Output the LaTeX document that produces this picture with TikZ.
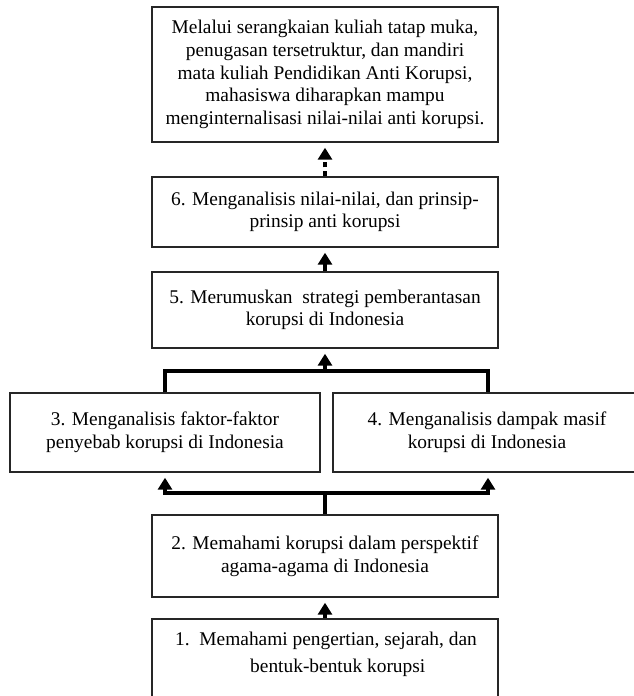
\documentclass[tikz,border=0pt]{standalone}
\usepackage{fontspec}
\setmainfont{Liberation Serif}
\usetikzlibrary{arrows.meta}
\begin{document}
\begin{tikzpicture}[x=1pt,y=-1pt,
  box/.style={draw=black!85, line width=1.4pt, rectangle, align=center, inner sep=0pt,
    font=\fontsize{19.4}{22.6}\selectfont},
  conn/.style={line width=4.5pt, draw=black},
  arr/.style={conn, -{Triangle[width=14pt,length=12pt]}, shorten >=5pt},
]
\useasboundingbox (0,0) rectangle (633,696);

\node[box, minimum width=346pt, minimum height=135pt] (goal) at (325,74.5)
  {Melalui serangkaian kuliah tatap muka,\\penugasan tersetruktur, dan mandiri\\mata kuliah Pendidikan Anti Korupsi,\\mahasiswa diharapkan mampu\\menginternalisasi nilai-nilai anti korupsi.};
\node[box, minimum width=346pt, minimum height=70pt] (b6) at (325,212)
  {6. Menganalisis nilai-nilai, dan prinsip-\\prinsip anti korupsi};
\node[box, minimum width=346pt, minimum height=76pt] (b5) at (325,310)
  {5. Merumuskan\ \ strategi pemberantasan\\korupsi di Indonesia};
\node[box, minimum width=310pt, minimum height=79pt] (b3) at (165,432.5)
  {3. Menganalisis faktor-faktor\\penyebab korupsi di Indonesia};
\node[box, minimum width=308pt, minimum height=79pt] (b4) at (487,432.5)
  {4. Menganalisis dampak masif\\korupsi di Indonesia};
\node[box, minimum width=346pt, minimum height=82pt] (b2) at (325,556)
  {2. Memahami korupsi dalam perspektif\\agama-agama di Indonesia};
\node[box, minimum width=346pt, minimum height=90pt] (b1) at (325,664) {};
\node[anchor=north west, inner sep=0pt, align=left,
  font=\fontsize{19.4}{22.6}\selectfont] (b1t) at (175,631.5)
  {1.\ \ Memahami pengertian, sejarah, dan\\[4.5pt]\hspace*{75pt}bentuk-bentuk korupsi};

% connectors
\draw[arr, dash pattern=on 5pt off 4pt] (b6.north) -- (goal.south);
\draw[arr] (b5.north) -- (b6.south);

\coordinate (tl) at (165,371);
\coordinate (tr) at (488,371);
\coordinate (tm) at (325,371);
\draw[conn] (b3.north -| tl) -- (tl) -- (tr) -- (b4.north -| tr);
\draw[arr] (tm) -- (b5.south);

\coordinate (bl) at (165,493);
\coordinate (br) at (488,493);
\coordinate (bm) at (325,493);
\draw[conn] (b2.north) -- (bm);
\draw[arr] (bm) -- (bl) -- (b3.south -| bl);
\draw[arr] (bm) -- (br) -- (b4.south -| br);

\draw[arr] (b1.north) -- (b2.south);
\end{tikzpicture}
\end{document}
